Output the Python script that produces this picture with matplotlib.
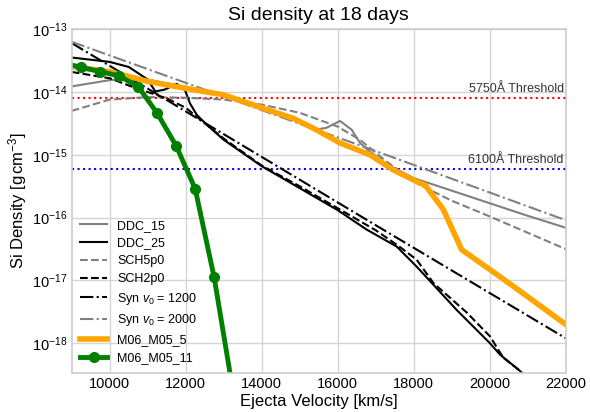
import numpy as np
import matplotlib
matplotlib.use("Agg")
import matplotlib.pyplot as plt

# velocities [km/s] and log10 Si density
ddc15_v = [9000, 10000, 10500, 11000, 12000, 13000, 14000, 15000, 15400, 15700, 16061, 16368, 16587, 16850, 17300, 18000, 19000, 20000, 21000, 22000]
ddc15_log = [-13.91, -13.81, -13.79, -13.80, -13.92, -14.05, -14.25, -14.48, -14.60, -14.57, -14.46, -14.60, -14.81, -14.95, -15.15, -15.37, -15.57, -15.77, -15.97, -16.16]

ddc25_v = [9000, 10000, 10500, 11000, 11200, 11450, 11763, 11982, 12113, 12289, 12553, 13000, 14000, 15000, 16000, 16763, 17553, 18079, 19132, 20008, 20271, 20797, 21200]
ddc25_log = [-13.45, -13.52, -13.60, -13.80, -13.99, -13.96, -13.87, -13.97, -14.18, -14.36, -14.52, -14.76, -15.18, -15.53, -15.88, -16.19, -16.46, -16.78, -17.47, -18.00, -18.18, -18.44, -18.70]

sch5_v = [9000, 10000, 11000, 12000, 13000, 14000, 15000, 16000, 16587, 17290, 18166, 19000, 20000, 21000, 22000]
sch5_log = [-14.30, -14.12, -14.08, -14.09, -14.12, -14.20, -14.33, -14.55, -14.76, -15.11, -15.48, -15.73, -15.98, -16.24, -16.50]

sch2_v = [9000, 10000, 10700, 11500, 12000, 13000, 14000, 15000, 16000, 17000, 17600, 18079, 18518, 19395, 20008, 20358, 20800, 21200]
sch2_log = [-13.68, -13.78, -13.94, -14.10, -14.25, -14.74, -15.17, -15.50, -15.85, -16.20, -16.45, -16.67, -17.04, -17.51, -17.89, -18.23, -18.44, -18.70]

syn1200_v = [9000, 13000, 17000, 22000]
syn1200_log = [-13.22, -14.67, -16.12, -17.92]

syn2000_v = [9000, 13000, 17000, 22000]
syn2000_log = [-13.20, -14.07, -14.94, -16.04]

m5_v = [9000, 10000, 11000, 12000, 13000, 14000, 14832, 15403, 16061, 16850, 17463, 18166, 18300, 18779, 19263, 20271, 20800, 22000]
m5_log = [-13.595, -13.675, -13.83, -13.94, -14.045, -14.25, -14.42, -14.59, -14.81, -15.00, -15.24, -15.45, -15.48, -15.87, -16.51, -16.94, -17.17, -17.70]

m11_v = [8750, 9250, 9750, 10250, 10750, 11250, 11750, 12250, 12750, 13250]
m11_log = [-13.535, -13.605, -13.675, -13.743, -13.913, -14.337, -14.857, -15.541, -16.952, -18.78]

thr_5750 = 8.0e-15
thr_6100 = 6.0e-16

x_ticks = [10000, 12000, 14000, 16000, 18000, 20000, 22000]
y_ticks = [1e-18, 1e-17, 1e-16, 1e-15, 1e-14, 1e-13]


def dens(vals):
    return 10 ** np.array(vals)


plt.rcParams['font.family'] = ['Liberation Sans', 'DejaVu Sans']
plt.rcParams['mathtext.fontset'] = 'custom'
plt.rcParams['mathtext.rm'] = 'Liberation Sans'
plt.rcParams['mathtext.it'] = 'Liberation Sans:italic'
plt.rcParams['mathtext.bf'] = 'Liberation Sans:bold'

fig = plt.figure(figsize=(5.9, 4.12), dpi=100)
ax = fig.add_axes([0.1215, 0.0954, 0.8373, 0.8336])

ax.axhline(thr_5750, color='red', ls=':', lw=1.5)
ax.axhline(thr_6100, color='blue', ls=':', lw=1.5)

ax.plot(ddc15_v, dens(ddc15_log), color='gray', ls='-', lw=1.5, label='DDC_15')
ax.plot(ddc25_v, dens(ddc25_log), color='black', ls='-', lw=1.5, label='DDC_25')
ax.plot(sch5_v, dens(sch5_log), color='gray', ls='--', lw=1.5, label='SCH5p0')
ax.plot(sch2_v, dens(sch2_log), color='black', ls='--', lw=1.5, label='SCH2p0')
ax.plot(syn1200_v, dens(syn1200_log), color='black', ls='-.', lw=1.5, label=r'Syn $v_0$ = 1200')
ax.plot(syn2000_v, dens(syn2000_log), color='gray', ls='-.', lw=1.5, label=r'Syn $v_0$ = 2000')
ax.plot(m5_v, dens(m5_log), color='orange', lw=4, label='M06_M05_5')
ax.plot(m11_v, dens(m11_log), color='green', lw=3.5, marker='o', ms=7, label='M06_M05_11')

ax.text(21950, thr_5750 * 1.12, '5750Å Threshold', ha='right', va='bottom', fontsize=9, color='#333333')
ax.text(21950, thr_6100 * 1.12, '6100Å Threshold', ha='right', va='bottom', fontsize=9, color='#333333')

ax.set_yscale('log')
ax.set_xlim(9000, 22000)
ax.set_ylim(3.4e-19, 1e-13)
ax.set_xticks(x_ticks)
ax.set_yticks(y_ticks)
ax.minorticks_off()

ax.grid(True, color='#d5d5d5', lw=1)
ax.set_axisbelow(True)
for sp in ax.spines.values():
    sp.set_color('#cccccc')
    sp.set_linewidth(1.2)
ax.tick_params(length=0, labelsize=10.5, pad=3)

ax.set_title('Si density at 18 days', fontsize=14, pad=7)
ax.set_xlabel('Ejecta Velocity [km/s]', fontsize=12, labelpad=2)
ax.set_ylabel(r'Si Density [g$\,$cm$^{-3}$]', fontsize=12, labelpad=2)

ax.legend(loc='lower left', frameon=False, fontsize=9, handlelength=2.15, handletextpad=0.8,
          labelspacing=0.46, borderaxespad=0.3)

fig.savefig('out.png', dpi=100)
